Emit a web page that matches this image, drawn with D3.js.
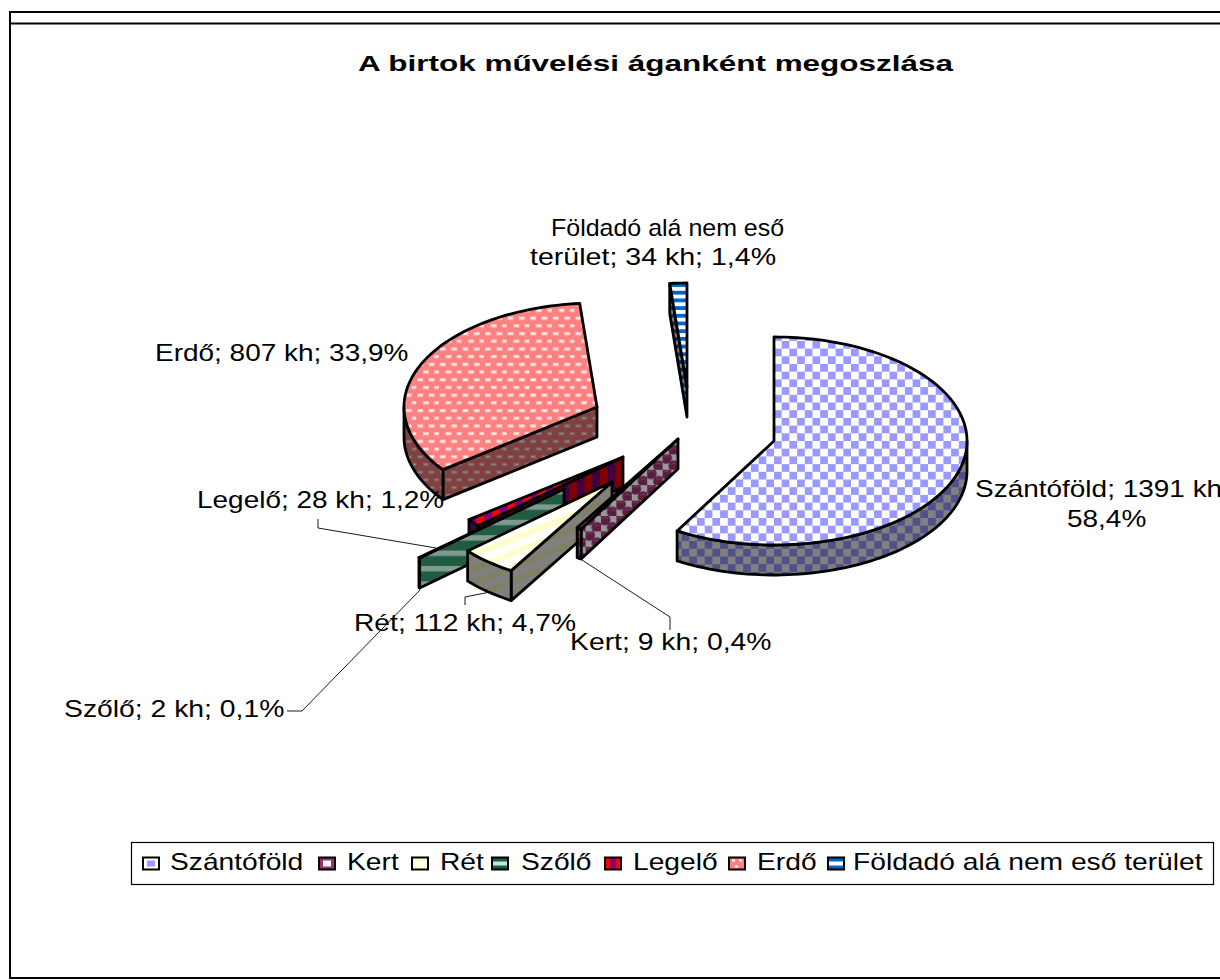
<!DOCTYPE html>
<html>
<meta charset="utf-8">
<style>
    html, body {
        margin: 0;
        padding: 0;
        background: #fff;
        overflow: hidden;
    }
    text {
        font-family: "Liberation Sans", Arial, sans-serif;
        fill: #000;
    }
    .face {
        stroke: #000;
        stroke-width: 2.8px;
        stroke-linejoin: round;
    }
    .leader {
        fill: none;
        stroke: #000;
        stroke-width: 0.9px;
    }
</style>
<svg width="1220" height="980"></svg>
<script src="https://d3js.org/d3.v7.min.js"></script>
<script>
    // chart data
    const categories = ["Szántóföld", "Kert", "Rét", "Szőlő", "Legelő", "Erdő", "Földadó alá nem eső terület"];
    const areas = [1391, 9, 112, 2, 28, 807, 34];
    const unit = "kh";
    const chartTitle = "A birtok művelési áganként megoszlása";

    // layout
    const width = 1220, height = 980;
    const center = [680, 430];
    const rx = 193, ry = 104, depth = 30;
    // slices are dragged out by hand in the original, so every one has its own offset
    const explode = [[94, 11], [-2, 9], [-68, 52], [-116, 59], [-57, 27], [-83, -23], [7, -43]];
    const drawOrder = [6, 5, 4, 3, 2, 1, 0];

    const patternIds = ["szanto", "kert", "ret", "szolo", "legelo", "erdo", "foldado"];

    let svg = d3.select("svg");
    let defs = svg.append("defs");

    function basePattern(id, w, h, bg) {
        let p = defs.append("pattern")
                .attr("id", id)
                .attr("patternUnits", "userSpaceOnUse")
                .attr("width", w)
                .attr("height", h);
        p.append("rect").attr("width", w).attr("height", h).attr("fill", bg);
        return p;
    }

    function checker(id, a, b) {
        let p = basePattern(id, 15.4, 15.4, a);
        p.append("rect").attr("width", 7.7).attr("height", 7.7).attr("fill", b);
        p.append("rect").attr("x", 7.7).attr("y", 7.7).attr("width", 7.7).attr("height", 7.7).attr("fill", b);
    }

    function hStripes(id, a, b, size, share) {
        let p = basePattern(id, size, size, a);
        p.append("rect").attr("width", size).attr("height", size * share).attr("fill", b);
    }

    function vStripes(id, a, b, size) {
        let p = basePattern(id, size, size, a);
        p.append("rect").attr("width", size / 2).attr("height", size).attr("fill", b);
    }

    // slanted bands inside an unrotated tile, a rotated pattern shows seams
    function slanted(id, a, b) {
        let p = basePattern(id, 35, 14, a);
        p.append("path").attr("fill", b).attr("d", "M0,7L35,-7L35,0L0,14Z M0,21L35,7L35,14L0,28Z");
    }

    function bubbles(id, bg, fg, shine) {
        let p = basePattern(id, 15.4, 15.4, bg);
        [[3.8, 3.8], [11.5, 11.5]].forEach((c) => {
            p.append("circle").attr("cx", c[0]).attr("cy", c[1]).attr("r", 5.6).attr("fill", fg);
            p.append("path")
                    .attr("d", "M" + (c[0] - 3) + "," + (c[1] - 1.5) + "q3,-2.5 6,0")
                    .attr("fill", "none")
                    .attr("stroke", shine)
                    .attr("stroke-width", 0.8);
        });
    }

    function dots(id, bg, fg, rim) {
        let p = basePattern(id, 22.6, 15.4, bg);
        [[1.5, 2.4], [12.8, 2.4], [7.2, 10], [18.5, 10]].forEach((c) => {
            p.append("rect")
                    .attr("x", c[0]).attr("y", c[1])
                    .attr("width", 5).attr("height", 2.4)
                    .attr("fill", fg)
                    .attr("stroke", rim)
                    .attr("stroke-width", 1);
        });
    }

    checker("szanto-top", "#fff", "#9999ff");
    checker("szanto-wall", "#808080", "#50508a");
    bubbles("kert-top", "#ffffff", "#993366", "#c77");
    bubbles("kert-wall", "#999", "#5a1d41", "#7d4a68");
    slanted("ret-top", "#ffffcc", "#ffffff");
    slanted("ret-wall", "#808066", "#808080");
    hStripes("szolo-top", "#215c42", "#7f9a90", 15.4, 0.35);
    hStripes("szolo-wall", "#215c42", "#7f9a90", 15.4, 0.35);
    vStripes("legelo-top", "#ff0000", "#800080", 15.4);
    vStripes("legelo-wall", "#800000", "#400040", 15.4);
    dots("erdo-top", "#ff8080", "#fff", "#ffc4c4");
    dots("erdo-wall", "#804040", "#8a8a8a", "#806060");
    hStripes("foldado-top", "#0066cc", "#fff", 7.7, 0.5);
    hStripes("foldado-wall", "#003366", "#808080", 7.7, 0.5);

    // frame
    svg.append("rect")
            .attr("x", 10)
            .attr("y", 12)
            .attr("width", width + 20)
            .attr("height", 966)
            .attr("fill", "#fff")
            .attr("stroke", "#000")
            .attr("stroke-width", 2);
    svg.append("line")
            .attr("x1", 10).attr("x2", width)
            .attr("y1", 23.5).attr("y2", 23.5)
            .attr("stroke", "#000")
            .attr("stroke-width", 2);

    // the original text is wider than the font, stretch it horizontally
    function stretch(node, factor) {
        let len = node.getComputedTextLength();
        d3.select(node)
                .attr("textLength", len * factor)
                .attr("lengthAdjust", "spacingAndGlyphs");
    }

    svg.append("text")
            .attr("x", 358)
            .attr("y", 71)
            .attr("font-size", 22)
            .attr("font-weight", "bold")
            .attr("textLength", 595)
            .attr("lengthAdjust", "spacingAndGlyphs")
            .text(chartTitle);

    // angles come from d3.pie, clockwise from 12 o'clock
    let pie = d3.pie().sort(null).startAngle(0).endAngle(2 * Math.PI);
    let slices = pie(areas);
    let total = d3.sum(areas);
    let pctFmt = (v) => (v / total * 100).toFixed(1).replace(".", ",") + "%";

    let polygon = d3.line();

    function rim(a, dy) {
        return [rx * Math.sin(a), -ry * Math.cos(a) + (dy || 0)];
    }

    function rimPoints(a0, a1, dy) {
        let n = Math.max(2, Math.ceil((a1 - a0) / 0.03));
        return d3.range(n + 1).map((i) => rim(a0 + (a1 - a0) * i / n, dy));
    }

    let sliceG = svg.append("g")
            .selectAll("g")
            .data(drawOrder)
            .enter().append("g")
            .attr("transform", (i) => "translate(" + (center[0] + explode[i][0]) + "," + (center[1] + explode[i][1]) + ")");

    sliceG.each(function (i) {
        let g = d3.select(this);
        let s = slices[i];
        let a0 = s.startAngle, a1 = s.endAngle;
        let wallFill = "url(#" + patternIds[i] + "-wall)";
        let topFill = "url(#" + patternIds[i] + "-top)";

        // cut faces that turn towards the viewer
        if (Math.sin(a0) < 0) {
            g.append("path").attr("class", "face").attr("fill", wallFill)
                    .attr("d", polygon([[0, 0], rim(a0), rim(a0, depth), [0, depth]]) + "Z");
        }
        if (Math.sin(a1) > 0.001) {
            g.append("path").attr("class", "face").attr("fill", wallFill)
                    .attr("d", polygon([[0, 0], rim(a1), rim(a1, depth), [0, depth]]) + "Z");
        }
        // outer wall, only the front half of the ellipse
        let from = Math.max(a0, Math.PI / 2), to = Math.min(a1, 3 * Math.PI / 2);
        if (to > from) {
            let pts = rimPoints(from, to, 0).concat(rimPoints(from, to, depth).reverse());
            g.append("path").attr("class", "face").attr("fill", wallFill)
                    .attr("d", polygon(pts) + "Z");
        }
        g.append("path").attr("class", "face").attr("fill", topFill)
                .attr("d", polygon([[0, 0]].concat(rimPoints(a0, a1, 0))) + "Z");
    });

    // leader lines
    const leaders = [
        [[318, 519], [318, 528], [436, 548]],
        [[287, 711], [302, 711], [420, 590]],
        [[465, 605], [465, 597], [490, 592]],
        [[670, 630], [670, 617], [582, 560]]
    ];
    svg.append("g")
            .selectAll("path")
            .data(leaders)
            .enter().append("path")
            .attr("class", "leader")
            .attr("d", (d) => polygon(d));

    // data labels: category; area kh; share
    function labelLines(i) {
        let tail = areas[i] + " " + unit + "; " + pctFmt(areas[i]);
        if (i === 0) {
            return [categories[i] + "; " + areas[i] + " " + unit + ";", pctFmt(areas[i])];
        }
        if (i === 6) {
            return ["Földadó alá nem eső", "terület; " + tail];
        }
        return [categories[i] + "; " + tail];
    }

    const labelX = [[975, 1067], [570], [354], [64], [197], [155], [551, 530]];
    const labelY = [[497, 527], [650], [631], [717], [508], [361], [236, 265]];
    const labelStretch = [[1.165, 1.165], [1.18], [1.175], [1.18], [1.165], [1.165], [1.04, 1.19]];

    let labels = svg.append("g").attr("font-size", 24);
    categories.forEach((c, i) => {
        labelLines(i).forEach((line, k) => {
            let t = labels.append("text")
                    .attr("x", labelX[i][k])
                    .attr("y", labelY[i][k])
                    .text(line);
            stretch(t.node(), labelStretch[i][k]);
        });
    });

    // legend
    const legendKeyX = [143, 319, 412, 492, 605, 729, 828];
    const legendTextX = [170, 347, 440, 521, 633, 757, 853];
    // key swatches are too small for the big pattern tiles
    const keyColors = [
        ["#fff", "#9999ff", "checker"],
        ["#993366", "#fff", "checker"],
        ["#ffffcc", "#fff", "h"],
        ["#215c42", "#c0e8d8", "h"],
        ["#ff0000", "#800080", "v"],
        ["#ff8080", "#fff", "dot"],
        ["#0066cc", "#fff", "h"]
    ];

    svg.append("rect")
            .attr("x", 131.5)
            .attr("y", 842.5)
            .attr("width", 1082)
            .attr("height", 42)
            .attr("fill", "#fff")
            .attr("stroke", "#000")
            .attr("stroke-width", 1.2);

    keyColors.forEach((k, i) => {
        // one tile per key, anchored on the key box itself
        let p = basePattern("key" + i, 16, 12, k[0])
                .attr("patternUnits", "objectBoundingBox")
                .attr("width", 1)
                .attr("height", 1);
        if (k[2] === "checker") {
            p.append("rect").attr("x", 4).attr("y", 3).attr("width", 8).attr("height", 6).attr("fill", k[1]);
        } else if (k[2] === "h") {
            p.append("rect").attr("y", 4).attr("width", 16).attr("height", 4).attr("fill", k[1]);
        } else if (k[2] === "v") {
            p.append("rect").attr("x", 5.5).attr("width", 5).attr("height", 12).attr("fill", k[1]);
        } else {
            p.append("rect").attr("x", 3).attr("y", 2).attr("width", 3).attr("height", 2).attr("fill", k[1]);
            p.append("rect").attr("x", 10).attr("y", 2).attr("width", 3).attr("height", 2).attr("fill", k[1]);
            p.append("rect").attr("x", 6).attr("y", 8).attr("width", 3).attr("height", 2).attr("fill", k[1]);
        }
    });

    let legend = svg.append("g")
            .selectAll("g")
            .data(categories)
            .enter().append("g");

    legend.append("rect")
            .attr("x", (d, i) => legendKeyX[i])
            .attr("y", 857.5)
            .attr("width", 16)
            .attr("height", 12)
            .attr("fill", (d, i) => "url(#key" + i + ")")
            .attr("stroke", "#000")
            .attr("stroke-width", 2);

    legend.append("text")
            .attr("x", (d, i) => legendTextX[i])
            .attr("y", 870)
            .attr("font-size", 24)
            .text((d) => d)
            .each(function () {
                stretch(this, 1.175);
            });
</script>
</html>
